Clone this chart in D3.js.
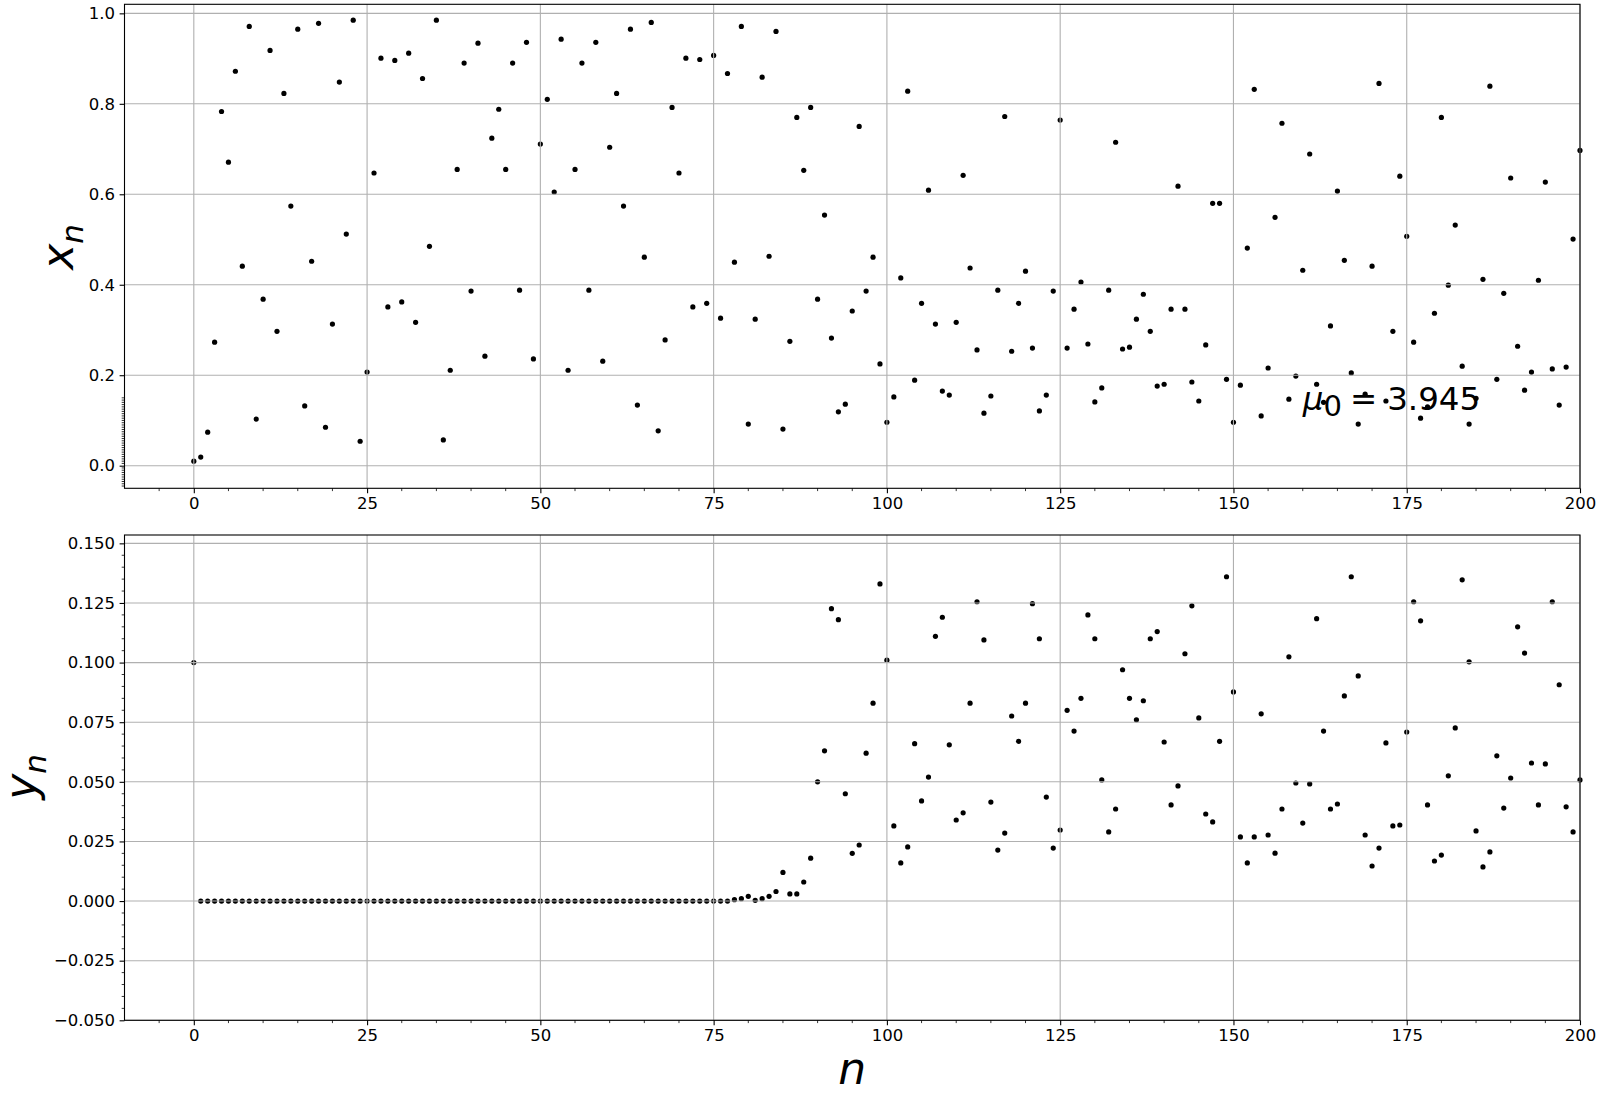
<!DOCTYPE html>
<html>
<head>
<meta charset="utf-8">
<script src="https://cdn.jsdelivr.net/npm/d3@7"></script>
<style>
  body { margin: 0; background: #fff; }
  svg { display: block; }
</style>
</head>
<body>
<div id="chart"></div>
<script>
// x_n values for n = 0..200
var xValues = [
    0.010, 0.019, 0.074, 0.273, 0.783, 0.671, 0.872, 0.441, 0.971, 0.103,
    0.368, 0.918, 0.297, 0.823, 0.574, 0.965, 0.132, 0.452, 0.978, 0.085,
    0.313, 0.848, 0.512, 0.985, 0.054, 0.207, 0.647, 0.901, 0.351, 0.896,
    0.362, 0.912, 0.317, 0.856, 0.485, 0.985, 0.057, 0.211, 0.655, 0.890,
    0.386, 0.934, 0.242, 0.724, 0.788, 0.655, 0.890, 0.388, 0.936, 0.236,
    0.711, 0.810, 0.605, 0.943, 0.211, 0.655, 0.890, 0.388, 0.936, 0.231,
    0.704, 0.823, 0.574, 0.965, 0.134, 0.461, 0.980, 0.077, 0.278, 0.792,
    0.647, 0.901, 0.351, 0.898, 0.359, 0.907, 0.326, 0.867, 0.450, 0.971,
    0.092, 0.324, 0.859, 0.463, 0.960, 0.081, 0.275, 0.770, 0.653, 0.792,
    0.368, 0.554, 0.282, 0.119, 0.136, 0.342, 0.750, 0.386, 0.461, 0.225,
    0.096, 0.152, 0.415, 0.828, 0.189, 0.359, 0.609, 0.313, 0.165, 0.156,
    0.317, 0.642, 0.437, 0.256, 0.116, 0.154, 0.388, 0.772, 0.253, 0.359,
    0.430, 0.260, 0.121, 0.156, 0.386, 0.764, 0.260, 0.346, 0.406, 0.269,
    0.141, 0.172, 0.388, 0.715, 0.258, 0.262, 0.324, 0.379, 0.297, 0.176,
    0.180, 0.346, 0.618, 0.346, 0.185, 0.143, 0.267, 0.580, 0.580, 0.191,
    0.096, 0.178, 0.481, 0.832, 0.110, 0.216, 0.549, 0.757, 0.147, 0.198,
    0.432, 0.689, 0.180, 0.140, 0.309, 0.607, 0.454, 0.205, 0.092, 0.158,
    0.441, 0.845, 0.143, 0.297, 0.640, 0.507, 0.273, 0.105, 0.130, 0.337,
    0.770, 0.399, 0.532, 0.220, 0.092, 0.149, 0.412, 0.839, 0.191, 0.381,
    0.636, 0.264, 0.167, 0.207, 0.410, 0.627, 0.214, 0.134, 0.218, 0.501,
    0.697
];

// y_n values for n = 0..200
var yValues = [
    0.100, 0, 0, 0, 0, 0, 0, 0, 0, 0,
    0, 0, 0, 0, 0, 0, 0, 0, 0, 0,
    0, 0, 0, 0, 0, 0, 0, 0, 0, 0,
    0, 0, 0, 0, 0, 0, 0, 0, 0, 0,
    0, 0, 0, 0, 0, 0, 0, 0, 0, 0,
    0, 0, 0, 0, 0, 0, 0, 0, 0, 0,
    0, 0, 0, 0, 0, 0, 0, 0, 0, 0,
    0, 0, 0, 0, 0, 0, 0, 0, 0.0006, 0.001,
    0.002, 0.0003, 0.001, 0.002, 0.004, 0.012, 0.003, 0.003, 0.008, 0.018,
    0.050, 0.063, 0.1226, 0.118, 0.045, 0.020, 0.0235, 0.062, 0.083, 0.133,
    0.101, 0.0315, 0.016, 0.0227, 0.066, 0.042, 0.052, 0.111, 0.119, 0.0655,
    0.034, 0.037, 0.083, 0.1255, 0.1095, 0.0415, 0.0214, 0.0285, 0.0776, 0.067,
    0.083, 0.1247, 0.110, 0.0436, 0.0222, 0.0298, 0.080, 0.0713, 0.085, 0.120,
    0.110, 0.0508, 0.029, 0.0386, 0.097, 0.085, 0.076, 0.084, 0.110, 0.113,
    0.0667, 0.0403, 0.0483, 0.1037, 0.1238, 0.0768, 0.0365, 0.0332, 0.067, 0.136,
    0.0877, 0.0269, 0.016, 0.0269, 0.0785, 0.0277, 0.0201, 0.0386, 0.1024, 0.0495,
    0.0327, 0.0491, 0.1184, 0.0713, 0.0386, 0.0407, 0.086, 0.136, 0.0944, 0.0277,
    0.0147, 0.0222, 0.0663, 0.0315, 0.0319, 0.0709, 0.1255, 0.1175, 0.0403, 0.0168,
    0.0193, 0.0525, 0.0726, 0.1347, 0.1003, 0.0294, 0.0143, 0.0206, 0.0609, 0.039,
    0.0516, 0.115, 0.104, 0.0579, 0.0403, 0.0575, 0.1255, 0.0907, 0.0395, 0.029,
    0.0508
];

var nTicks = [0, 25, 50, 75, 100, 125, 150, 175, 200];
var xTopTicks = [0.0, 0.2, 0.4, 0.6, 0.8, 1.0];
var yBottomTicks = [-0.050, -0.025, 0.000, 0.025, 0.050, 0.075, 0.100, 0.125, 0.150];
var muValue = "3.945";

var width = 1600;
var height = 1100;
var svg = d3.select("#chart").append("svg")
    .attr("width", width)
    .attr("height", height)
    .style("font-family", "'DejaVu Sans', sans-serif");

var left = 124.5, right = 1580;
var x = d3.scaleLinear().domain([-10, 200]).range([left, right]);
var yTop = d3.scaleLinear().domain([-0.05, 1.02]).range([488.3, 4.3]);
var yBot = d3.scaleLinear().domain([-0.05, 0.1535]).range([1020.3, 535]);

// minor tick positions
var nMinor = d3.range(-1, 40).map(function(k) { return k * 5; })
    .filter(function(v) { return v % 25 !== 0; });
var topYMinor = d3.range(-9, 31).filter(function(k) { return k !== 0; })
    .map(function(k) { return k * 0.005; });
var botYMinor = d3.range(-9, 31).filter(function(k) { return k % 5 !== 0; })
    .map(function(k) { return k * 0.005; });

function drawPanel(y, values, yTicks, fmt, yMinor) {
    var g = svg.append("g");
    var bottom = y.range()[0], top = y.range()[1];

    g.append("g").selectAll("circle")
        .data(values)
        .enter().append("circle")
        .attr("cx", function(d, i) { return x(i); })
        .attr("cy", function(d) { return y(d); })
        .attr("r", 2.6)
        .attr("fill", "#000");

    // grid sits above the markers, like in the original
    var grid = g.append("g").attr("stroke", "#b0b0b0").attr("stroke-width", 1.1);
    grid.selectAll(".gx").data(nTicks).enter().append("line")
        .attr("x1", function(d) { return x(d); })
        .attr("x2", function(d) { return x(d); })
        .attr("y1", bottom).attr("y2", top);
    grid.selectAll(".gy").data(yTicks).enter().append("line")
        .attr("x1", left).attr("x2", right)
        .attr("y1", function(d) { return y(d); })
        .attr("y2", function(d) { return y(d); });

    g.append("rect")
        .attr("x", left).attr("y", top)
        .attr("width", right - left).attr("height", bottom - top)
        .attr("fill", "none").attr("stroke", "#000").attr("stroke-width", 1.1);

    var ax = g.append("g")
        .attr("transform", "translate(0," + bottom + ")")
        .call(d3.axisBottom(x).tickValues(nTicks).tickSize(4.9).tickPadding(4.5).tickFormat(d3.format("d")));
    var ay = g.append("g")
        .attr("transform", "translate(" + left + ",0)")
        .call(d3.axisLeft(y).tickValues(yTicks).tickSize(4.9).tickPadding(4.5).tickFormat(fmt));

    [ax, ay].forEach(function(a) {
        a.select(".domain").remove();
        a.selectAll("line").attr("stroke", "#000").attr("stroke-width", 1.1);
        a.selectAll("text")
            .attr("font-size", 16.5)
            .attr("font-family", "'DejaVu Sans', sans-serif")
            .attr("fill", "#000");
    });

    var minor = g.append("g").attr("stroke", "#000").attr("stroke-width", 0.8);
    minor.selectAll(".mx").data(nMinor).enter().append("line")
        .attr("x1", function(d) { return x(d); })
        .attr("x2", function(d) { return x(d); })
        .attr("y1", bottom).attr("y2", bottom + 2.8);
    minor.selectAll(".my").data(yMinor).enter().append("line")
        .attr("x1", left).attr("x2", left - 2.8)
        .attr("y1", function(d) { return y(d); })
        .attr("y2", function(d) { return y(d); });
    return g;
}

drawPanel(yTop, xValues, xTopTicks, d3.format(".1f"), topYMinor);
drawPanel(yBot, yValues, yBottomTicks, d3.format(".3f"), botYMinor);

// mu annotation in the top panel
var mu = svg.append("text")
    .attr("x", x(160))
    .attr("y", yTop(0.123))
    .attr("font-size", 32.5)
    .attr("fill", "#000");
mu.append("tspan").attr("font-style", "italic").text("\u03bc");
mu.append("tspan").attr("font-size", 29).attr("dy", 6).text("0");
mu.append("tspan").attr("dy", -6).attr("dx", 8).text("=");
mu.append("tspan").attr("dx", 10).text(muValue);

// axis labels
var xl = svg.append("text")
    .attr("transform", "translate(73,247) rotate(-90)")
    .attr("text-anchor", "middle")
    .attr("font-size", 44)
    .attr("font-style", "italic")
    .attr("fill", "#000");
xl.append("tspan").text("x");
xl.append("tspan").attr("font-size", 31).attr("dy", 10).text("n");

var yl = svg.append("text")
    .attr("transform", "translate(36,777) rotate(-90)")
    .attr("text-anchor", "middle")
    .attr("font-size", 44)
    .attr("font-style", "italic")
    .attr("fill", "#000");
yl.append("tspan").text("y");
yl.append("tspan").attr("font-size", 31).attr("dy", 10).text("n");

svg.append("text")
    .attr("x", (left + right) / 2)
    .attr("y", 1084)
    .attr("text-anchor", "middle")
    .attr("font-size", 44)
    .attr("font-style", "italic")
    .attr("fill", "#000")
    .text("n");
</script>
</body>
</html>
